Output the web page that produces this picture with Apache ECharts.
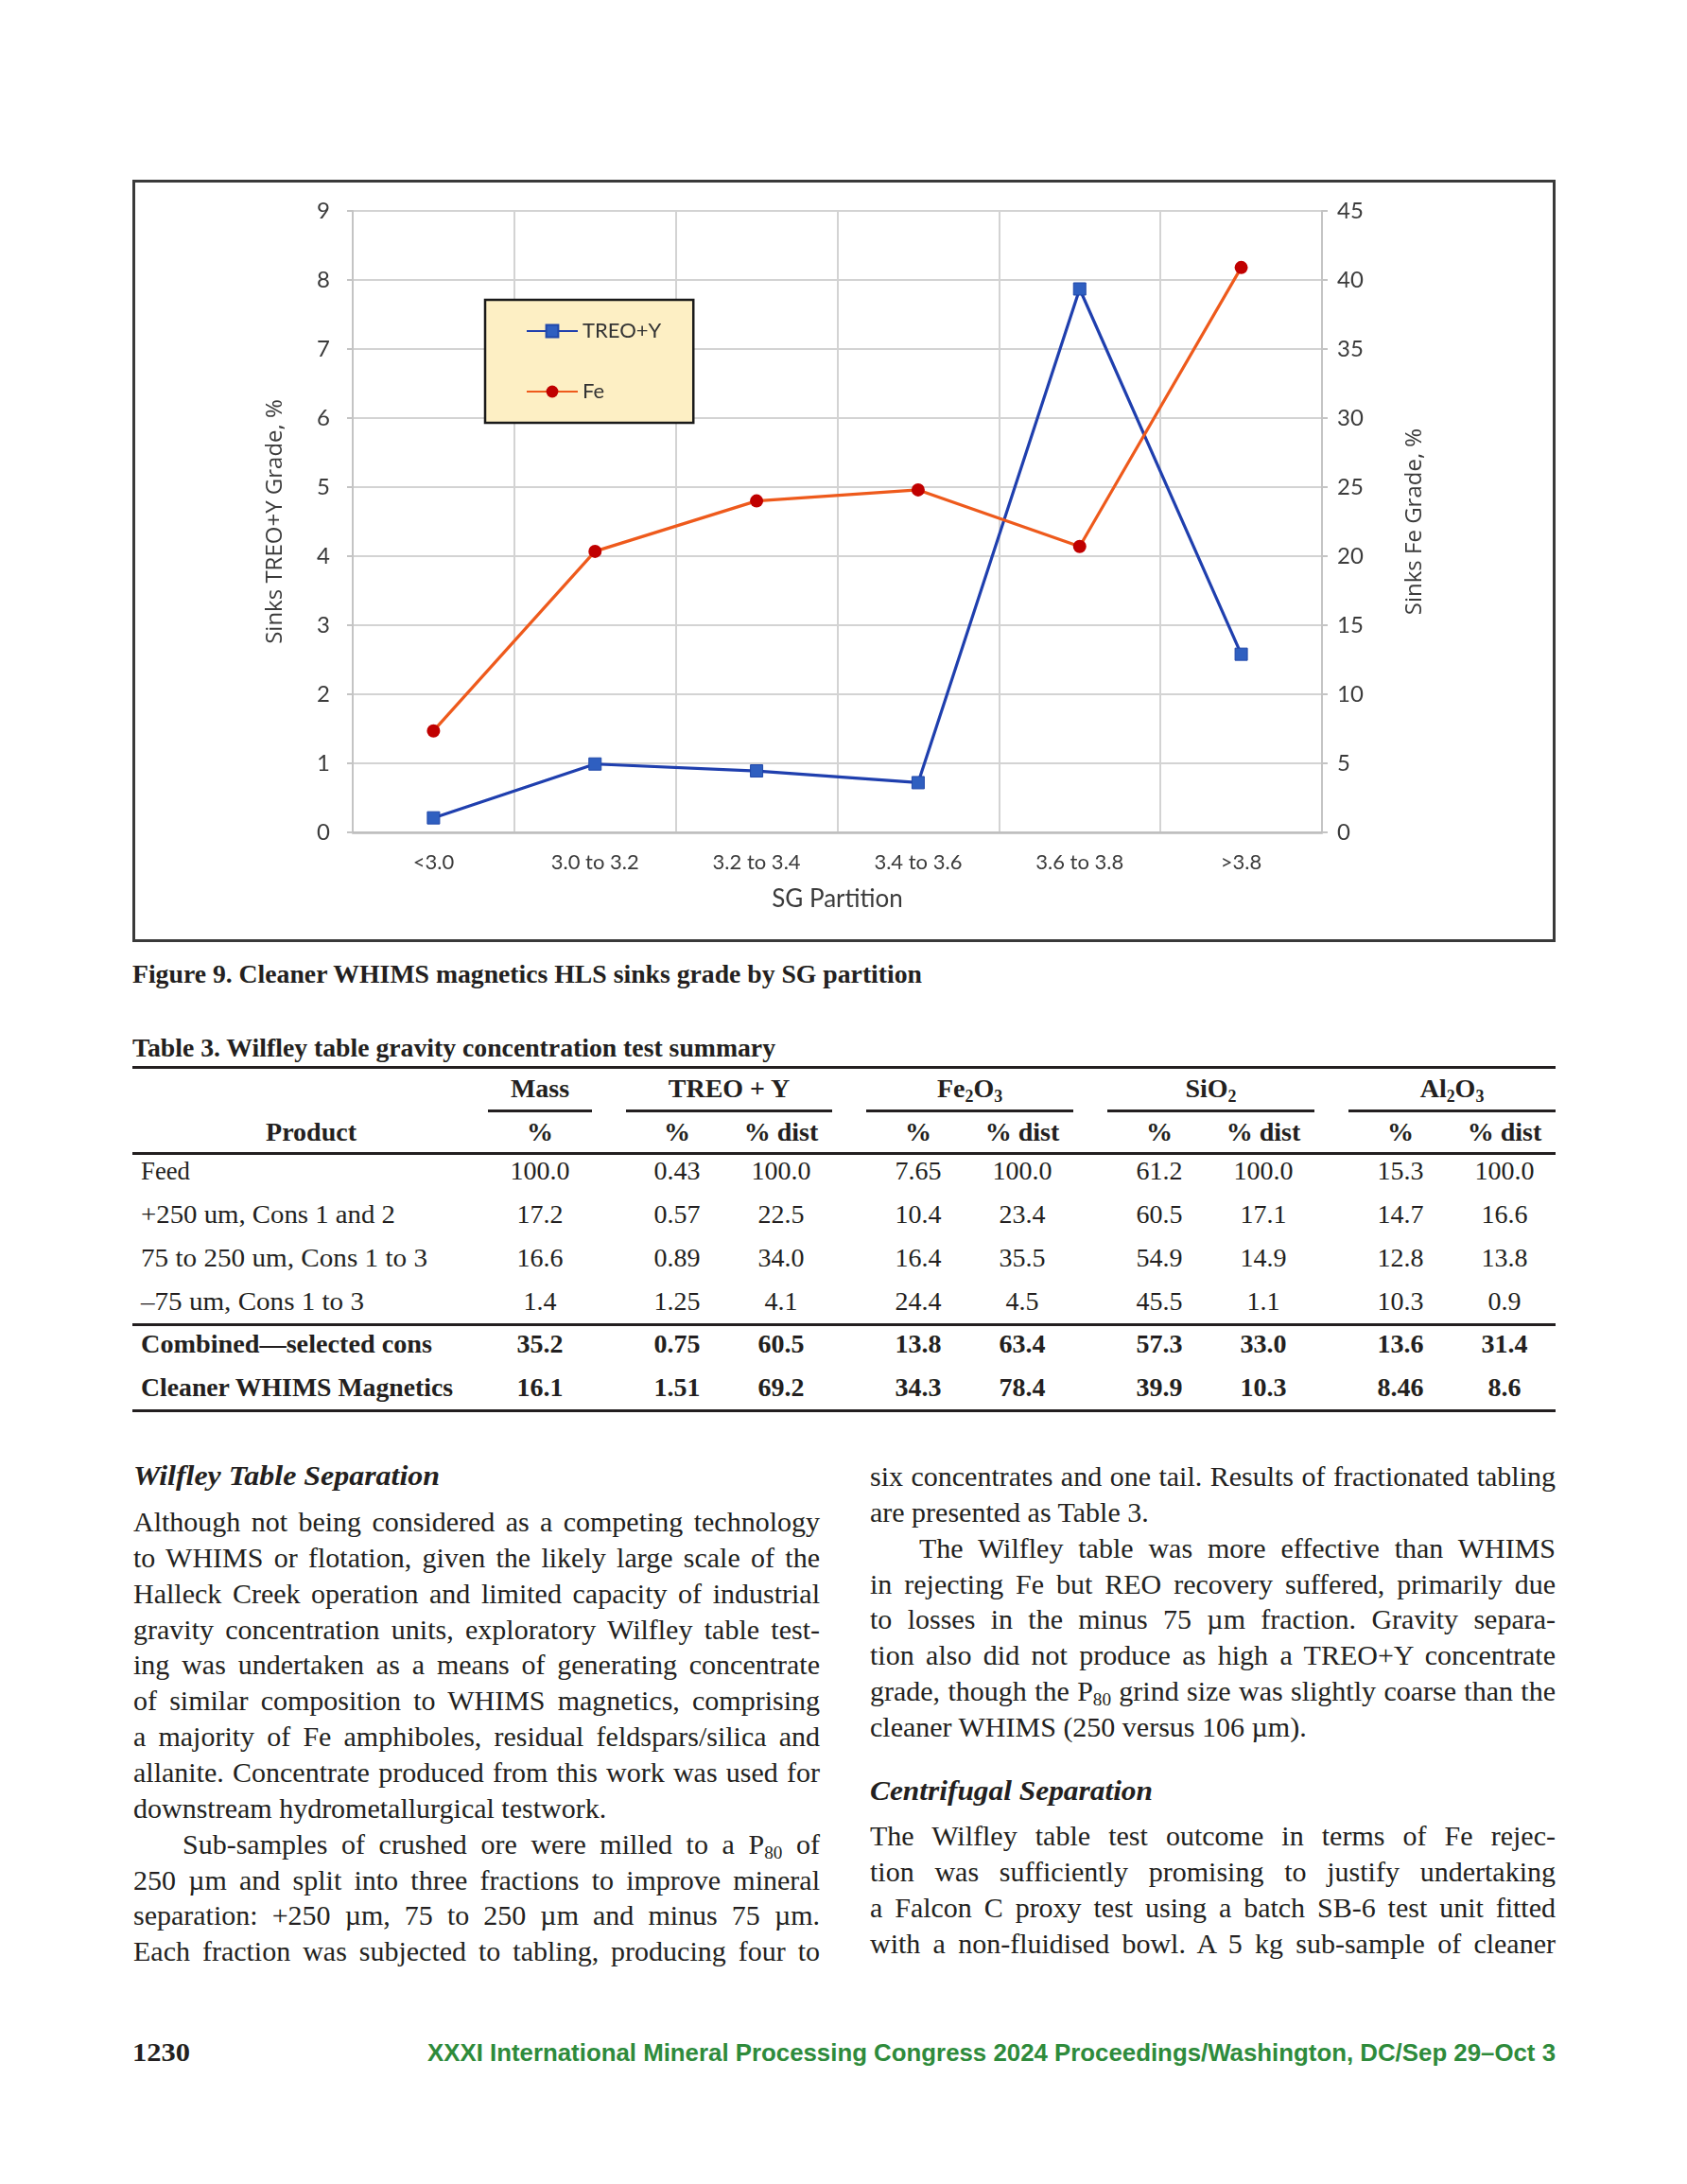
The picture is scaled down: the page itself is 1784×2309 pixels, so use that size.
<!DOCTYPE html>
<html>
<head>
<meta charset="utf-8">
<script src="https://cdn.jsdelivr.net/npm/echarts@6/dist/echarts.min.js"></script>
<style>
html,body{margin:0;padding:0;background:#fff;}
#page{position:relative;width:1784px;height:2309px;overflow:hidden;font-family:"Liberation Serif",serif;color:#231f20;}
.t{position:absolute;white-space:nowrap;font-size:28px;line-height:38px;height:38px;box-sizing:border-box;}
.body{font-size:30px;}
.b{font-weight:bold;}
.bi{font-weight:bold;font-style:italic;}
sub{font-size:64%;vertical-align:-0.28em;line-height:0;}
.rule{position:absolute;left:140px;width:1505px;background:#231f20;}
.grp{position:absolute;height:2.5px;background:#231f20;}
#chartBox{position:absolute;left:140px;top:190px;width:1505px;height:806px;border:3px solid #3a3a3a;box-sizing:border-box;background:#fff;}
#chart{width:100%;height:100%;}
.foot{position:absolute;white-space:nowrap;font-family:"Liberation Sans",sans-serif;font-weight:bold;font-size:26px;line-height:34px;color:#2e8b3b;}
</style>
</head>
<body>
<div id="page">
  <div id="chartBox"><div id="chart"></div></div>
  <div id="texts"></div>
</div>
<script>
// ---------------- chart data ----------------
const categories = ['<3.0', '3.0 to 3.2', '3.2 to 3.4', '3.4 to 3.6', '3.6 to 3.8', '>3.8'];
const treoY = [0.21, 0.99, 0.89, 0.72, 7.87, 2.58];
const fe = [7.35, 20.35, 24.0, 24.8, 20.7, 40.9];
const seriesNames = ['TREO+Y', 'Fe'];
const xAxisTitle = 'SG Partition';
const leftAxisTitle = 'Sinks TREO+Y Grade, %';
const rightAxisTitle = 'Sinks Fe Grade, %';

// ---------------- table data ----------------
const tableHeaderGroups = ['Mass', 'TREO + Y', 'Fe<sub>2</sub>O<sub>3</sub>', 'SiO<sub>2</sub>', 'Al<sub>2</sub>O<sub>3</sub>'];
const tableSubHeaders = ['%', '%', '% dist', '%', '% dist', '%', '% dist', '%', '% dist'];
const tableProducts = ['Feed', '+250 um, Cons 1 and 2', '75 to 250 um, Cons 1 to 3', '\u201375 um, Cons 1 to 3', 'Combined\u2014selected cons', 'Cleaner WHIMS Magnetics'];
const tableValues = [
  ['100.0', '0.43', '100.0', '7.65', '100.0', '61.2', '100.0', '15.3', '100.0'],
  ['17.2', '0.57', '22.5', '10.4', '23.4', '60.5', '17.1', '14.7', '16.6'],
  ['16.6', '0.89', '34.0', '16.4', '35.5', '54.9', '14.9', '12.8', '13.8'],
  ['1.4', '1.25', '4.1', '24.4', '4.5', '45.5', '1.1', '10.3', '0.9'],
  ['35.2', '0.75', '60.5', '13.8', '63.4', '57.3', '33.0', '13.6', '31.4'],
  ['16.1', '1.51', '69.2', '34.3', '78.4', '39.9', '10.3', '8.46', '8.6']
];

// ---------------- text content ----------------
const figureCaption = 'Figure 9. Cleaner WHIMS magnetics HLS sinks grade by SG partition';
const tableTitle = 'Table 3. Wilfley table gravity concentration test summary';
const leftHeading = 'Wilfley Table Separation';
const leftLines = [
  ['j', 'Although not being considered as a competing technology'],
  ['j', 'to WHIMS or flotation, given the likely large scale of the'],
  ['j', 'Halleck Creek operation and limited capacity of industrial'],
  ['j', 'gravity concentration units, exploratory Wilfley table test-'],
  ['j', 'ing was undertaken as a means of generating concentrate'],
  ['j', 'of similar composition to WHIMS magnetics, comprising'],
  ['j', 'a majority of Fe amphiboles, residual feldspars/silica and'],
  ['j', 'allanite. Concentrate produced from this work was used for'],
  ['l', 'downstream hydrometallurgical testwork.'],
  ['ji', 'Sub-samples of crushed ore were milled to a P<sub>80</sub> of'],
  ['j', '250 \u00b5m and split into three fractions to improve mineral'],
  ['j', 'separation: +250 \u00b5m, 75 to 250 \u00b5m and minus 75 \u00b5m.'],
  ['j', 'Each fraction was subjected to tabling, producing four to']
];
const rightLines1 = [
  ['j', 'six concentrates and one tail. Results of fractionated tabling'],
  ['l', 'are presented as Table 3.'],
  ['ji', 'The Wilfley table was more effective than WHIMS'],
  ['j', 'in rejecting Fe but REO recovery suffered, primarily due'],
  ['j', 'to losses in the minus 75 \u00b5m fraction. Gravity separa-'],
  ['j', 'tion also did not produce as high a TREO+Y concentrate'],
  ['j', 'grade, though the P<sub>80</sub> grind size was slightly coarse than the'],
  ['l', 'cleaner WHIMS (250 versus 106 \u00b5m).']
];
const rightHeading = 'Centrifugal Separation';
const rightLines2 = [
  ['j', 'The Wilfley table test outcome in terms of Fe rejec-'],
  ['j', 'tion was sufficiently promising to justify undertaking'],
  ['j', 'a Falcon C proxy test using a batch SB-6 test unit fitted'],
  ['j', 'with a non-fluidised bowl. A 5 kg sub-sample of cleaner']
];
const pageNumber = '1230';
const footerText = 'XXXI International Mineral Processing Congress 2024 Proceedings/Washington, DC/Sep 29\u2013Oct 3';

// ---------------- chart ----------------
const chart = echarts.init(document.getElementById('chart'), null, {renderer: 'canvas'});
const gridColor = '#d3d3d3';
const labelColor = '#3b3b3b';
chart.setOption({
  animation: false,
  backgroundColor: '#ffffff',
  grid: {left: 230, top: 30, width: 1025, height: 657, containLabel: false},
  legend: {
    orient: 'vertical', left: 370, top: 124,
    backgroundColor: '#fdefc4', borderColor: '#1a1a1a', borderWidth: 2.5, borderRadius: 0,
    padding: [22, 34, 22, 43], itemGap: 42, itemWidth: 54, itemHeight: 16,
    textStyle: {fontFamily: 'Lato', fontSize: 22, color: '#333333'},
    data: seriesNames
  },
  xAxis: {
    type: 'category', data: categories, boundaryGap: true,
    axisLine: {show: true, lineStyle: {color: '#bdbdbd', width: 2.5}},
    axisTick: {show: false},
    axisLabel: {fontFamily: 'Lato', fontSize: 22, color: labelColor, margin: 21},
    splitLine: {show: true, lineStyle: {color: gridColor, width: 2}},
    name: xAxisTitle, nameLocation: 'middle', nameGap: 58,
    nameTextStyle: {fontFamily: 'Lato', fontSize: 26, color: labelColor}
  },
  yAxis: [
    {
      type: 'value', min: 0, max: 9, interval: 1, position: 'left',
      axisLine: {show: true, lineStyle: {color: '#c4c4c4', width: 2}},
      axisTick: {show: true, length: 6, lineStyle: {color: '#c4c4c4', width: 2}},
      axisLabel: {fontFamily: 'Lato', fontSize: 24, color: labelColor, margin: 24},
      splitLine: {show: true, lineStyle: {color: gridColor, width: 2}},
      name: leftAxisTitle, nameLocation: 'middle', nameGap: 70, nameRotate: 90,
      nameTextStyle: {fontFamily: 'Open Sans', fontSize: 24, color: labelColor}
    },
    {
      type: 'value', min: 0, max: 45, interval: 5, position: 'right',
      axisLine: {show: true, lineStyle: {color: '#c4c4c4', width: 2}},
      axisTick: {show: true, length: 6, lineStyle: {color: '#c4c4c4', width: 2}},
      axisLabel: {fontFamily: 'Lato', fontSize: 24, color: labelColor, margin: 16},
      splitLine: {show: false},
      name: rightAxisTitle, nameLocation: 'middle', nameGap: 86, nameRotate: 90,
      nameTextStyle: {fontFamily: 'Open Sans', fontSize: 24, color: labelColor}
    }
  ],
  series: [
    {
      name: seriesNames[0], type: 'line', yAxisIndex: 0, data: treoY,
      symbol: 'rect', symbolSize: 13, showAllSymbol: true,
      lineStyle: {color: '#1f3fae', width: 3.2},
      itemStyle: {color: '#2f5fc0', borderColor: '#2048aa', borderWidth: 1}
    },
    {
      name: seriesNames[1], type: 'line', yAxisIndex: 1, data: fe,
      symbol: 'circle', symbolSize: 14, showAllSymbol: true,
      lineStyle: {color: '#ee5a1c', width: 3.2},
      itemStyle: {color: '#c00000'}
    }
  ]
});

// ---------------- page text ----------------
const host = document.getElementById('texts');
function addText(html, opt) {
  const d = document.createElement('div');
  d.className = 't ' + (opt.cls || '');
  d.innerHTML = html;
  d.style.top = (opt.cy - 19) + 'px';
  if (opt.cx !== undefined) {
    d.style.left = (opt.cx - 150) + 'px';
    d.style.width = '300px';
    d.style.textAlign = 'center';
  } else {
    d.style.left = opt.x + 'px';
  }
  if (opt.w) { d.dataset.w = opt.w; d.dataset.mode = opt.mode || 'fit'; }
  if (opt.indent) d.style.paddingLeft = opt.indent + 'px';
  host.appendChild(d);
  return d;
}
function addRule(top, h, left, width, cls) {
  const r = document.createElement('div');
  r.className = cls || 'rule';
  r.style.top = top + 'px';
  r.style.height = h + 'px';
  if (left !== undefined) { r.style.left = left + 'px'; r.style.width = width + 'px'; }
  host.appendChild(r);
}

// captions
addText(figureCaption, {x: 140, cy: 1030, cls: 'b', w: 835});
addText(tableTitle, {x: 140, cy: 1108, cls: 'b', w: 680});

// table
const colCenters = [571, 716, 826, 971, 1081, 1226, 1336, 1481, 1591];
const groupSpans = [[516, 626], [662, 880], [916, 1135], [1171, 1390], [1426, 1645]];
addRule(1127, 3);
tableHeaderGroups.forEach((g, i) => {
  const s = groupSpans[i];
  addText(g, {cx: (s[0] + s[1]) / 2, cy: 1151, cls: 'b'});
  addRule(1173, 2.5, s[0], s[1] - s[0], 'grp');
});
addText('Product', {cx: 329, cy: 1197, cls: 'b'});
tableSubHeaders.forEach((h, i) => addText(h, {cx: colCenters[i], cy: 1197, cls: 'b'}));
addRule(1218, 3);
const rowYs = [1238, 1284, 1330, 1376, 1421, 1467];
const labelWidths = [52, 269, 303, 236, 308, 330];
tableProducts.forEach((p, r) => {
  const bold = r >= 4 ? 'b' : '';
  addText(p, {x: 149, cy: rowYs[r], cls: bold, w: labelWidths[r]});
  tableValues[r].forEach((v, c) => addText(v, {cx: colCenters[c], cy: rowYs[r], cls: bold}));
});
addRule(1399, 2.5);
addRule(1490, 3);

// body text
addText(leftHeading, {x: 141, cy: 1560, cls: 'bi body', w: 324});
leftLines.forEach((ln, i) => {
  addText(ln[1], {x: 141, cy: 1609 + i * 37.85, cls: 'body', w: 726, mode: ln[0][0], indent: ln[0] === 'ji' ? 52 : 0});
});
rightLines1.forEach((ln, i) => {
  addText(ln[1], {x: 920, cy: 1561 + i * 37.85, cls: 'body', w: 725, mode: ln[0][0], indent: ln[0] === 'ji' ? 52 : 0});
});
addText(rightHeading, {x: 920, cy: 1893, cls: 'bi body', w: 299});
rightLines2.forEach((ln, i) => {
  addText(ln[1], {x: 920, cy: 1941 + i * 37.85, cls: 'body', w: 725, mode: ln[0][0]});
});

// footer
addText(pageNumber, {x: 140, cy: 2170, cls: 'b', w: 61});
const f = document.createElement('div');
f.className = 'foot';
f.textContent = footerText;
f.style.left = '452px';
f.style.top = (2170 - 17) + 'px';
f.dataset.w = 1193; f.dataset.mode = 'fit';
host.appendChild(f);

function fitAll() {
  document.querySelectorAll('[data-w]').forEach(el => {
    const W = +el.dataset.w;
    const mode = el.dataset.mode;
    el.style.width = 'auto';
    el.style.display = 'inline-block';
    el.style.transform = 'none';
    const nat = el.getBoundingClientRect().width;
    if (mode === 'fit' || nat > W) {
      el.style.transformOrigin = '0 50%';
      el.style.transform = 'scaleX(' + (W / nat) + ')';
      return;
    }
    el.style.display = 'block';
    el.style.width = W + 'px';
    if (mode === 'j') {
      el.style.textAlign = 'justify';
      el.style.textAlignLast = 'justify';
    } else {
      el.style.textAlign = 'left';
    }
  });
}
fitAll();
if (document.fonts && document.fonts.ready) document.fonts.ready.then(fitAll);
</script>
</body>
</html>
